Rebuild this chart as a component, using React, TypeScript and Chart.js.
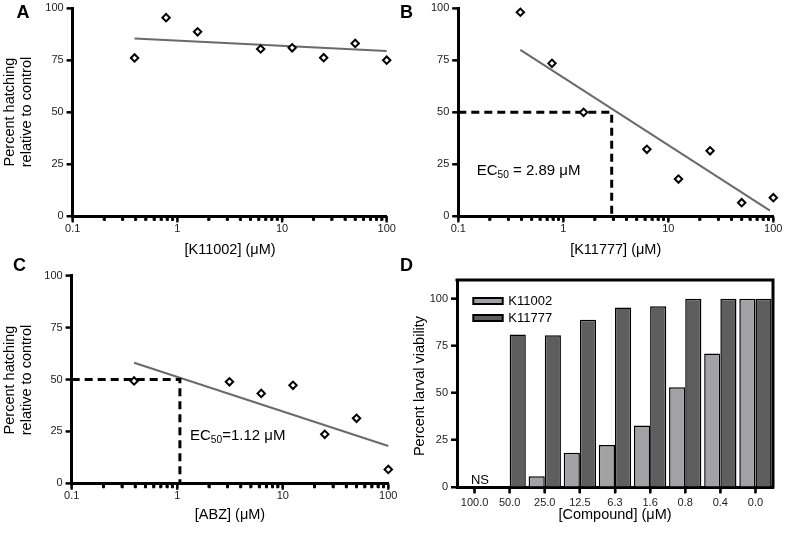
import React, { useEffect, useRef } from 'react';
import { Chart, registerables } from 'chart.js';

Chart.register(...registerables);

const FONT = '"Liberation Sans", Arial, Helvetica, sans-serif';
const W = 786;
const H = 536;

// ---------- data ----------
const logMajor = [0.1, 1, 10, 100];
const yTicks = [0, 25, 50, 75, 100];

const concA = [0.39, 0.78, 1.56, 6.25, 12.5, 25, 50, 100];
const hatchA = [76.1, 95.5, 88.7, 80.4, 81.0, 76.2, 83.1, 75.0];
const fitAx = [0.39, 100];
const fitAy = [85.5, 79.4];

const concB = [0.39, 0.78, 1.56, 6.25, 12.5, 25, 50, 100];
const hatchB = [98.1, 73.5, 49.9, 32.1, 17.8, 31.4, 6.4, 8.8];
const fitBx = [0.39, 93];
const fitBy = [80, 2.6];
const ec50Bx = [0.1, 2.89, 2.89];
const ec50By = [50, 50, 0];

const concC = [0.39, 3.125, 6.25, 12.5, 25, 50, 100];
const hatchC = [49.3, 48.9, 43.3, 47.2, 23.6, 31.3, 6.7];
const fitCx = [0.39, 100];
const fitCy = [58.1, 18.0];
const ec50Cx = [0.1, 1.06, 1.06];
const ec50Cy = [50, 50, 0];

const doses = ['100.0', '50.0', '25.0', '12.5', '6.3', '1.6', '0.8', '0.4', '0.0'];
const viabK11002 = [0, 0, 5.7, 18.2, 22.3, 32.7, 53, 71, 100];
const viabK11777 = [0, 81.1, 80.6, 88.9, 95.4, 96.1, 100, 100, 100];

// ---------- helpers ----------
const pts = (xs: number[], ys: number[]) => xs.map((x, i) => ({ x, y: ys[i] }));

function logTicks() {
  const out: { value: number; major: boolean }[] = [];
  for (let i = 0; i < logMajor.length; i++) {
    const d = logMajor[i];
    out.push({ value: d, major: true });
    if (i < logMajor.length - 1) {
      for (let k = 2; k <= 9; k++) out.push({ value: d * k, major: false });
    }
  }
  return out;
}

function text(ctx: CanvasRenderingContext2D, s: string, x: number, y: number, size: number,
  o: { align?: CanvasTextAlign; baseline?: CanvasTextBaseline; bold?: boolean; rotate?: boolean; color?: string } = {}) {
  ctx.save();
  ctx.font = `${o.bold ? 'bold ' : ''}${size}px ${FONT}`;
  ctx.fillStyle = o.color || '#000';
  ctx.textAlign = o.align || 'center';
  ctx.textBaseline = o.baseline || 'middle';
  ctx.translate(x, y);
  if (o.rotate) ctx.rotate(-Math.PI / 2);
  ctx.fillText(s, 0, 0);
  ctx.restore();
}

function ec50Text(ctx: CanvasRenderingContext2D, x: number, y: number, size: number, rest: string) {
  ctx.save();
  ctx.fillStyle = '#000';
  ctx.textAlign = 'left';
  ctx.textBaseline = 'alphabetic';
  ctx.font = `${size}px ${FONT}`;
  ctx.fillText('EC', x, y);
  let w = ctx.measureText('EC').width;
  ctx.font = `${size * 0.68}px ${FONT}`;
  ctx.fillText('50', x + w, y + 2.5);
  w += ctx.measureText('50').width;
  ctx.font = `${size}px ${FONT}`;
  ctx.fillText(rest, x + w, y);
  ctx.restore();
}

// tick marks drawn through the chart's own scales
function drawTickMarks(chart: any, logX: boolean) {
  const ctx: CanvasRenderingContext2D = chart.ctx;
  const a = chart.chartArea;
  const xs = chart.scales.x;
  const ys = chart.scales.y;
  ctx.save();
  ctx.fillStyle = '#000';
  yTicks.forEach((v) => {
    const y = ys.getPixelForValue(v);
    ctx.fillRect(a.left - 6, y - 1, 6, 2);
  });
  if (logX) {
    logTicks().forEach((t) => {
      const x = xs.getPixelForValue(t.value);
      if (t.major) ctx.fillRect(x - 1.1, a.bottom, 2.2, 6.5);
      else ctx.fillRect(x - 1.5, a.bottom, 3, 4.5);
    });
  } else {
    doses.forEach((_d, i) => {
      const x = xs.getPixelForTick(i);
      ctx.fillRect(x - 1.1, a.bottom, 2.2, 6.5);
    });
  }
  ctx.restore();
}

type Area = { l: number; t: number; r: number; b: number };
const Y_AXIS_W = 40;
const X_AXIS_H = 30;

function padding(area: Area) {
  return { left: area.l - Y_AXIS_W, top: area.t, right: W - area.r, bottom: H - area.b - X_AXIS_H };
}

function yAxis(max: number) {
  return {
    type: 'linear',
    position: 'left',
    min: 0,
    max,
    afterBuildTicks: (s: any) => { s.ticks = yTicks.map((v) => ({ value: v })); },
    afterFit: (s: any) => { s.width = Y_AXIS_W; s.paddingTop = 0; s.paddingBottom = 0; },
    border: { display: true, color: '#000', width: 3 },
    grid: { display: true, drawOnChartArea: false, drawTicks: true, tickLength: 6, tickWidth: 2, tickColor: '#000' },
    ticks: { padding: 3, color: '#222', font: { family: FONT, size: 11 } },
  };
}

function scatterConfig(area: Area, datasets: any[], deco: (ctx: CanvasRenderingContext2D, chart: any) => void) {
  return {
    type: 'scatter',
    data: { datasets },
    options: {
      animation: false,
      responsive: false,
      devicePixelRatio: 1,
      layout: { padding: padding(area) },
      plugins: { legend: { display: false }, tooltip: { enabled: false } },
      scales: {
        x: {
          type: 'logarithmic',
          position: 'bottom',
          min: 0.1,
          max: 100,
          afterBuildTicks: (s: any) => { s.ticks = logTicks(); },
          afterFit: (s: any) => { s.height = X_AXIS_H; s.paddingLeft = 0; s.paddingRight = 0; },
          border: { display: true, color: '#000', width: 3 },
          grid: { display: true, drawOnChartArea: false, drawTicks: true, tickLength: 5, tickWidth: 2, tickColor: '#000' },
          ticks: {
            autoSkip: false,
            maxRotation: 0,
            padding: 1,
            color: '#222',
            font: { family: FONT, size: 11 },
            callback: (v: number) => (logMajor.includes(v) ? String(v) : ''),
          },
        },
        y: yAxis(100),
      },
    },
    plugins: [{
      id: 'deco',
      afterDraw: (chart: any) => {
        drawTickMarks(chart, true);
        deco(chart.ctx, chart);
      },
    }],
  };
}

const pointDs = (xs: number[], ys: number[]) => ({
  data: pts(xs, ys),
  showLine: false,
  pointStyle: 'rectRot',
  pointRadius: 3.7,
  pointBorderWidth: 2,
  pointBorderColor: '#000',
  pointBackgroundColor: '#fff',
  clip: false,
  order: 0,
});
const fitDs = (xs: number[], ys: number[]) => ({
  data: pts(xs, ys),
  showLine: true,
  borderColor: '#6a6a6a',
  borderWidth: 2,
  pointRadius: 0,
  clip: false,
  order: 2,
});
const dashDs = (xs: number[], ys: number[]) => ({
  data: pts(xs, ys),
  showLine: true,
  borderColor: '#000',
  borderWidth: 3,
  borderDash: [8, 5],
  pointRadius: 0,
  clip: false,
  order: 1,
});

const hatchTitle = (ctx: CanvasRenderingContext2D, cy: number) => {
  text(ctx, 'Percent hatching', 10, cy, 14.5, { rotate: true });
  text(ctx, 'relative to control', 27, cy, 14.5, { rotate: true });
};

// ---------- configs ----------
const areaA: Area = { l: 72.7, t: 8.3, r: 386.7, b: 216 };
const cfgA = () => scatterConfig(areaA, [pointDs(concA, hatchA), fitDs(fitAx, fitAy)], (ctx) => {
  text(ctx, 'A', 23, 18, 18, { bold: true, baseline: 'alphabetic' });
  hatchTitle(ctx, 112);
  text(ctx, '[K11002] (\u03bcM)', 230, 250, 14.5);
});

const areaB: Area = { l: 458.3, t: 8.3, r: 773.3, b: 216 };
const cfgB = () => scatterConfig(areaB, [pointDs(concB, hatchB), dashDs(ec50Bx, ec50By), fitDs(fitBx, fitBy)], (ctx) => {
  text(ctx, 'B', 406.5, 18, 18, { bold: true, baseline: 'alphabetic' });
  text(ctx, '[K11777] (\u03bcM)', 615.7, 250, 14.5);
  ec50Text(ctx, 476.7, 175, 15, ' = 2.89 \u03bcM');
});

const areaC: Area = { l: 71.7, t: 275.7, r: 388.3, b: 483.3 };
const cfgC = () => scatterConfig(areaC, [pointDs(concC, hatchC), dashDs(ec50Cx, ec50Cy), fitDs(fitCx, fitCy)], (ctx) => {
  text(ctx, 'C', 19.5, 271, 18, { bold: true, baseline: 'alphabetic' });
  hatchTitle(ctx, 380);
  text(ctx, '[ABZ] (\u03bcM)', 230, 515, 14.5);
  ec50Text(ctx, 190, 440, 15, '=1.12 \u03bcM');
});

const areaD: Area = { l: 457, t: 280, r: 773, b: 487 };
const lightGrey = '#a2a2a6';
const darkGrey = '#5e5e5e';
const cfgD = () => ({
  type: 'bar',
  data: {
    labels: doses,
    datasets: [
      { label: 'K11002', data: viabK11002, backgroundColor: lightGrey, borderColor: '#000', borderWidth: 1.5, categoryPercentage: 0.92, barPercentage: 1 },
      { label: 'K11777', data: viabK11777, backgroundColor: darkGrey, borderColor: '#000', borderWidth: 1.5, categoryPercentage: 0.92, barPercentage: 1 },
    ],
  },
  options: {
    animation: false,
    responsive: false,
    devicePixelRatio: 1,
    layout: { padding: padding(areaD) },
    plugins: { legend: { display: false }, tooltip: { enabled: false } },
    scales: {
      x: {
        position: 'bottom',
        afterFit: (s: any) => { s.height = X_AXIS_H; s.paddingLeft = 0; s.paddingRight = 0; },
        border: { display: true, color: '#000', width: 3 },
        grid: { display: true, offset: false, drawOnChartArea: false, drawTicks: true, tickLength: 6, tickWidth: 2, tickColor: '#000' },
        ticks: { autoSkip: false, maxRotation: 0, padding: 3, color: '#222', font: { family: FONT, size: 11 } },
      },
      y: yAxis(110),
    },
  },
  plugins: [{
    id: 'decoD',
    afterDraw: (chart: any) => {
      const ctx: CanvasRenderingContext2D = chart.ctx;
      const a = chart.chartArea;
      drawTickMarks(chart, false);
      ctx.save();
      ctx.strokeStyle = '#000';
      ctx.lineWidth = 3;
      ctx.lineCap = 'square';
      ctx.beginPath();
      ctx.moveTo(a.left, a.top);
      ctx.lineTo(a.right, a.top);
      ctx.lineTo(a.right, a.bottom);
      ctx.stroke();
      // legend
      ctx.lineWidth = 2;
      ctx.lineCap = 'butt';
      ctx.fillStyle = lightGrey;
      ctx.fillRect(473.3, 298, 29.4, 6);
      ctx.strokeRect(473.3, 298, 29.4, 6);
      ctx.fillStyle = darkGrey;
      ctx.fillRect(473.3, 315, 29.4, 6);
      ctx.strokeRect(473.3, 315, 29.4, 6);
      ctx.restore();
      text(ctx, 'K11002', 508.3, 301.5, 13, { align: 'left' });
      text(ctx, 'K11777', 508.3, 318.5, 13, { align: 'left' });
      text(ctx, 'NS', 480, 480, 13);
      text(ctx, 'D', 406.5, 271, 18, { bold: true, baseline: 'alphabetic' });
      text(ctx, 'Percent larval viability', 420, 386, 14.5, { rotate: true });
      text(ctx, '[Compound] (\u03bcM)', 615, 515, 14.5);
    },
  }],
});

// ---------- components ----------
function Panel({ make }: { make: () => any }) {
  const ref = useRef<HTMLCanvasElement | null>(null);
  useEffect(() => {
    const chart = new Chart(ref.current as HTMLCanvasElement, make());
    return () => chart.destroy();
  }, []);
  return (
    <canvas
      ref={ref}
      width={W}
      height={H}
      style={{ position: 'absolute', left: 0, top: 0, width: W, height: H, display: 'block' }}
    />
  );
}

export default function App() {
  return (
    <div style={{ position: 'fixed', left: 0, top: 0, width: W, height: H, background: '#fff', overflow: 'hidden' }}>
      <Panel make={cfgA} />
      <Panel make={cfgB} />
      <Panel make={cfgC} />
      <Panel make={cfgD} />
    </div>
  );
}
